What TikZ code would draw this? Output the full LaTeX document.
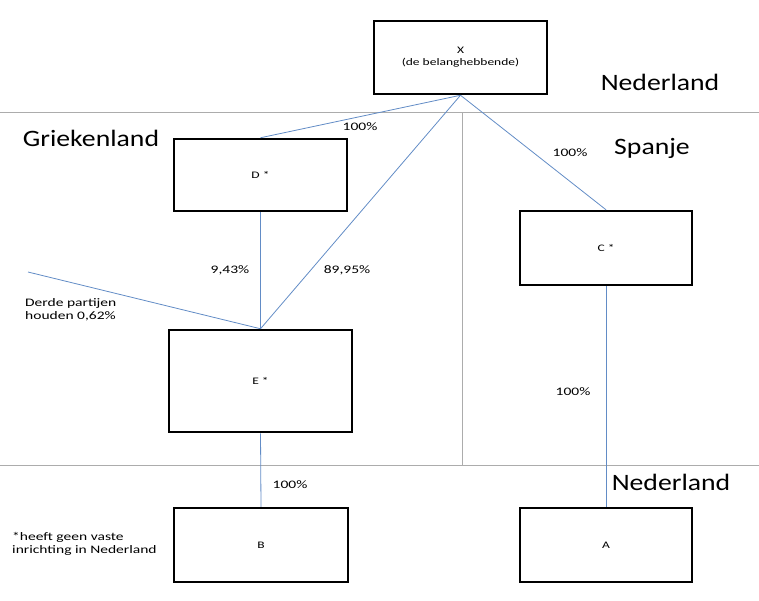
\documentclass[tikz,border=0pt]{standalone}
\usepackage{fontspec}
\setmainfont{Carlito}
\newfontfamily\grootlett[FakeStretch=1.18]{Carlito}
\newfontfamily\kleinlett[FakeStretch=1.35]{Carlito}
\usetikzlibrary{positioning}
\definecolor{lijnblauw}{RGB}{98,140,198}
\definecolor{grens}{RGB}{172,172,172}
\tikzset{
  bedrijf/.style={draw=black,line width=2.5pt,minimum width=173pt,minimum height=73pt,align=center,font=\kleinlett\fontsize{10}{12}\selectfont},
  land/.style={font=\grootlett\fontsize{23.5}{28}\selectfont},
  pct/.style={font=\kleinlett\fontsize{11.5}{13}\selectfont},
  belang/.style={draw=lijnblauw,line width=0.8pt},
}

\begin{document}
\begin{tikzpicture}[x=1pt,y=-1pt]
            \useasboundingbox (0,0) rectangle (759,600);
            \draw[grens] (0,112) -- (759,112);
            \draw[grens] (0,465) -- (759,465);
            \draw[grens] (462,112) -- (462,465);
            \node[bedrijf] (X) at (460.5,57.5) {X\\(de belanghebbende)};
            \node[bedrijf,minimum height=72pt] (D) at (260.5,175) {D *};
            \node[bedrijf,minimum width=172pt,minimum height=74pt] (C) at (606,248) {C *};
            \node[bedrijf,minimum width=183pt,minimum height=102pt] (E) at (260.5,381) {E *};
            \node[bedrijf,minimum width=174pt,minimum height=74pt] (B) at (261,545) {B};
            \node[bedrijf,minimum width=172pt,minimum height=74pt] (A) at (606,545) {A};
            \coordinate (derden) at (28,272);
            \draw[belang] (X.south) -- (D.north);
            \draw[belang] (X.south) -- (E.north);
            \draw[belang] (X.south) -- (C.north);
            \draw[belang] (D.south) -- (E.north);
            \draw[belang] (derden) -- (E.north);
            \draw[belang] (E.south) -- (B.north);
            \draw[belang] (C.south) -- (A.north);
            \node[land] (nlboven) at (660,82) {Nederland};
            \node[land] (gr) at (91,138) {Griekenland};
            \node[land] (es) at (652,148) {Spanje};
            \node[land] (nlonder) at (671,482) {Nederland};
            \node[pct] (pXD) at (360,127) {100\%};
            \node[pct] (pXC) at (570,153) {100\%};
            \node[pct] (pDE) at (230,270) {9,43\%};
            \node[pct] (pXE) at (347,270) {89,95\%};
            \node[pct] (pCA) at (573,392) {100\%};
            \node[pct] (pEB) at (290,485) {100\%};
            \node[pct,anchor=west,align=left,inner sep=0pt] (derdetxt) at (25,310) {Derde partijen\\houden 0,62\%};
            \node[pct,anchor=west,align=left,inner sep=0pt] (noot) at (12,544) {*heeft geen vaste\\inrichting in Nederland};
        \end{tikzpicture}
\end{document}
